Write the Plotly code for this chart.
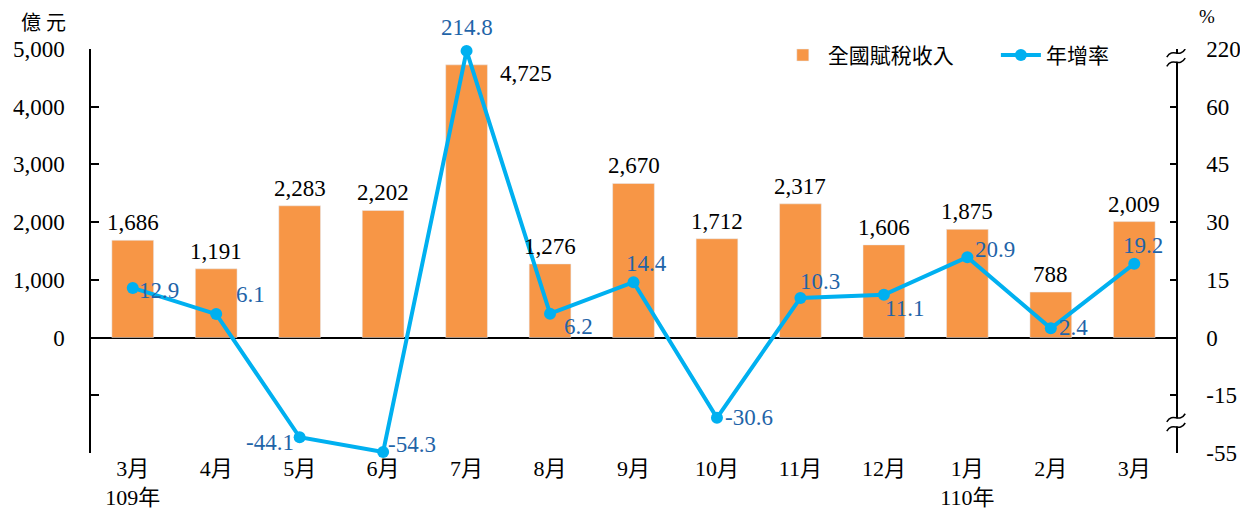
import plotly.graph_objects as go

months = ["3月", "4月", "5月", "6月", "7月", "8月", "9月", "10月", "11月", "12月", "1月", "2月", "3月"]
years = ["109年", "", "", "", "", "", "", "", "", "", "110年", "", ""]
revenue = [1686, 1191, 2283, 2202, 4725, 1276, 2670, 1712, 2317, 1606, 1875, 788, 2009]
growth = [12.9, 6.1, -44.1, -54.3, 214.8, 6.2, 14.4, -30.6, 10.3, 11.1, 20.9, 2.4, 19.2]
left_ticks = [-2000, -1000, 0, 1000, 2000, 3000, 4000, 5000]
right_ticks = [-55, -15, 0, 15, 30, 45, 60, 220]

# broken right axis: linear for -15..60, compressed beyond
def rmap(r):
    if r > 60:
        return 4000 + (r - 60) / 160 * 1000
    if r < -15:
        return -1000 + (r + 15) / 40 * 1000
    return r * 1000 / 15

x = list(range(len(months)))
ticktext = [m + ("<br>" + y if y else "") for m, y in zip(months, years)]
gy = [rmap(v) for v in growth]

SERIF = "Liberation Serif, 'Noto Sans CJK TC', serif"
BAR = "#F79646"
LINE = "#00B0F0"
LBL = "#1F64A8"

fig = go.Figure()
fig.add_trace(go.Bar(x=x, y=revenue, name="全國賦稅收入", marker_color=BAR, width=0.5, legend="legend"))
fig.add_trace(go.Scatter(x=x, y=gy, name="年增率", mode="lines+markers", yaxis="y2", cliponaxis=False,
                         legend="legend2",
                         line=dict(color=LINE, width=4), marker=dict(color=LINE, size=12)))

# bar labels
for i, v in enumerate(revenue):
    if v == 4725:
        fig.add_annotation(x=i, y=v, text=f"{v:,}", showarrow=False, xanchor="left", yanchor="middle",
                           xshift=31, yshift=-9, font=dict(family=SERIF, size=23, color="black"))
    else:
        fig.add_annotation(x=i, y=v, text=f"{v:,}", showarrow=False, xanchor="center", yanchor="bottom",
                           yshift=3, font=dict(family=SERIF, size=23, color="black"))

# growth labels (anchor, xshift, yshift)
lpos = [("left", 4, -3), ("left", 18, 20), ("right", -4, -5), ("left", 3, 7), ("center", 0, 23),
        ("left", 12, -13), ("left", -10, 19), ("left", 6, 0), ("left", -2, 16), ("left", -1, -14),
        ("left", 6, 8), ("left", 6, 1), ("left", -13, 18)]
for i, v in enumerate(growth):
    a, dx, dy = lpos[i]
    fig.add_annotation(x=i, y=gy[i], text=f"{v}", showarrow=False, xanchor=a, yanchor="middle",
                       xshift=dx, yshift=dy, font=dict(family=SERIF, size=23, color=LBL))

fig.add_annotation(x=-0.066, y=1.065, xref="paper", yref="paper", text="億 元", showarrow=False,
                   xanchor="left", yanchor="middle", font=dict(family=SERIF, size=20, color="black"))
fig.add_annotation(x=1.019, y=1.08, xref="paper", yref="paper", text="%", showarrow=False,
                   xanchor="left", yanchor="middle", font=dict(family=SERIF, size=19, color="black"))

# axis break marks on the right axis
for yb in [4850, -1470]:
    fig.add_shape(type="rect", xref="paper", yref="y", x0=0.996, x1=1.004, y0=yb - 70, y1=yb + 70,
                  fillcolor="white", line=dict(width=0), layer="above")
    for off in [-80, 80]:
        y0 = yb + off
        fig.add_shape(type="path", xref="paper", yref="y", layer="above",
                      path=f"M 0.9915,{y0 - 70} C 0.997,{y0 + 100} 1.003,{y0 - 100} 1.0085,{y0 + 70}",
                      line=dict(color="black", width=1.5))

legend_style = dict(orientation="h", y=1.035, xanchor="left", yanchor="top",
                    font=dict(family=SERIF, size=21, color="black"), bgcolor="rgba(0,0,0,0)",
                    itemwidth=40)
fig.update_layout(
    width=1240, height=511,
    margin=dict(l=91, r=64, t=49, b=58),
    plot_bgcolor="white", paper_bgcolor="white",
    showlegend=True,
    legend=dict(x=0.633, **legend_style),
    legend2=dict(x=0.834, **legend_style),
    xaxis=dict(range=[-0.5, 12.5], tickvals=x, ticktext=ticktext, showline=False, showgrid=False,
               zeroline=False, ticks="", automargin=False,
               tickfont=dict(family=SERIF, size=22, color="black")),
    yaxis=dict(range=[-2000, 5000], tickvals=left_ticks, automargin=False,
               ticktext=[f"{t:,}" if t >= 0 else "" for t in left_ticks],
               showline=True, linecolor="black", linewidth=1.5, ticks="inside", ticklen=8,
               tickcolor="black", tickwidth=1.5, showgrid=False, zeroline=True, zerolinecolor="black",
               zerolinewidth=1.5, ticklabelstandoff=20,
               tickfont=dict(family=SERIF, size=23, color="black")),
    yaxis2=dict(range=[-2000, 5000], overlaying="y", side="right", automargin=False,
                tickvals=[rmap(t) for t in right_ticks], ticktext=[str(t) for t in right_ticks],
                showline=True, linecolor="black", linewidth=1.5, ticks="inside", ticklen=6,
                tickcolor="black", tickwidth=1.5, showgrid=False, zeroline=False, ticklabelstandoff=24,
                tickfont=dict(family=SERIF, size=23, color="black")),
)

fig.write_html("out.html")
